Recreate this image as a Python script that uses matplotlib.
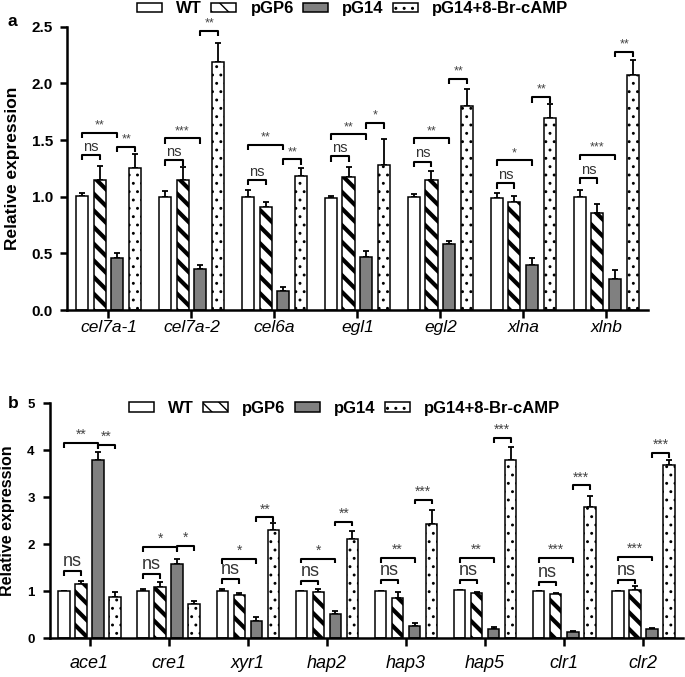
import numpy as np
import matplotlib
matplotlib.use("Agg")
import matplotlib.pyplot as plt

plt.rcParams["font.family"] = ["Liberation Sans", "DejaVu Sans"]
plt.rcParams["hatch.color"] = "black"

SERIES = ["WT", "pGP6", "pG14", "pG14+8-Br-cAMP"]

# panel a: cellulase / xylanase genes
GENES_A = ["cel7a-1", "cel7a-2", "cel6a", "egl1", "egl2", "xlna", "xlnb"]
WT_A = [1.01, 1.00, 1.00, 0.99, 1.00, 0.99, 1.00]
GP6_A = [1.15, 1.15, 0.91, 1.17, 1.15, 0.95, 0.86]
G14_A = [0.46, 0.36, 0.17, 0.47, 0.58, 0.40, 0.27]
CAMP_A = [1.25, 2.19, 1.18, 1.28, 1.80, 1.69, 2.07]
WT_A_ERR = [0.02, 0.05, 0.06, 0.02, 0.02, 0.04, 0.06]
GP6_A_ERR = [0.12, 0.11, 0.04, 0.09, 0.08, 0.06, 0.08]
G14_A_ERR = [0.04, 0.04, 0.03, 0.05, 0.03, 0.06, 0.08]
CAMP_A_ERR = [0.13, 0.17, 0.07, 0.23, 0.15, 0.13, 0.14]
# significance marks: WT vs pGP6, WT vs pG14, pG14 vs pG14+cAMP
NS_Y_A = [1.37, 1.32, 1.15, 1.36, 1.31, 1.12, 1.165]
WT_G14_Y_A = [1.565, 1.515, 1.46, 1.55, 1.515, 1.32, 1.37]
WT_G14_LAB_A = ["**", "***", "**", "**", "**", "*", "***"]
G14_CAMP_Y_A = [1.44, 2.465, 1.33, 1.65, 2.04, 1.88, 2.28]
G14_CAMP_LAB_A = ["**", "**", "**", "*", "**", "**", "**"]

# panel b: regulator genes
GENES_B = ["ace1", "cre1", "xyr1", "hap2", "hap3", "hap5", "clr1", "clr2"]
WT_B = [1.00, 1.00, 1.00, 1.00, 1.00, 1.02, 1.00, 1.00]
GP6_B = [1.15, 1.09, 0.92, 0.99, 0.85, 0.96, 0.93, 1.03]
G14_B = [3.80, 1.58, 0.36, 0.52, 0.25, 0.19, 0.13, 0.19]
CAMP_B = [0.88, 0.73, 2.30, 2.11, 2.43, 3.80, 2.80, 3.69]
WT_B_ERR = [0.01, 0.05, 0.05, 0.01, 0.01, 0.01, 0.01, 0.01]
GP6_B_ERR = [0.07, 0.10, 0.03, 0.06, 0.12, 0.01, 0.03, 0.07]
G14_B_ERR = [0.17, 0.10, 0.08, 0.05, 0.06, 0.04, 0.02, 0.02]
CAMP_B_ERR = [0.10, 0.05, 0.15, 0.16, 0.30, 0.26, 0.22, 0.10]
NS_Y_B = [1.43, 1.36, 1.26, 1.22, 1.24, 1.24, 1.20, 1.24]
WT_G14_Y_B = [4.15, 1.94, 1.68, 1.69, 1.70, 1.70, 1.70, 1.73]
WT_G14_LAB_B = ["**", "*", "*", "*", "**", "**", "***", "***"]
G14_CAMP_Y_B = [4.12, 1.96, 2.57, 2.48, 2.95, 4.26, 3.25, 3.94]
G14_CAMP_LAB_B = ["**", "*", "**", "**", "***", "***", "***", "***"]

FACES = ["white", "white", "#808080", "white"]
HATCHES = [None, "\\\\", None, ".."]
HATCH_LW = [1.0, 3.0, 1.0, 0.9]
STEP = 0.215
WIDTH = 0.145


def draw_panel(ax, genes, means, errs, ns_y, y2, lab2, y3, lab3,
               ymax, ticks, tick_fmt, fs):
    x = np.arange(len(genes))
    bars = []
    for k in range(4):
        pos = x + (k - 1.5) * STEP
        m = np.array(means[k])
        e = np.array(errs[k])
        with plt.rc_context({"hatch.linewidth": HATCH_LW[k]}):
            b = ax.bar(pos, m, WIDTH, color=FACES[k], edgecolor="black",
                       hatch=HATCHES[k], linewidth=1.1, zorder=2)
        for p in b:
            if hasattr(p, "set_hatch_linewidth"):
                p.set_hatch_linewidth(HATCH_LW[k])
        ax.errorbar(pos, m, yerr=[np.zeros_like(e), e], fmt="none",
                    ecolor="black", elinewidth=1.3, capsize=2.5,
                    capthick=1.3, zorder=1)
        bars.append(b)

    h = 0.02 * ymax
    marks = []
    for g in range(len(genes)):
        marks.append((g, 0, 1, ns_y[g], "ns"))
        marks.append((g, 0, 2, y2[g], lab2[g]))
        marks.append((g, 2, 3, y3[g], lab3[g]))
    for g, i, j, y, lab in marks:
        x1 = g + (i - 1.5) * STEP
        x2 = g + (j - 1.5) * STEP
        ax.plot([x1, x1, x2, x2], [y - h, y, y, y - h], color="black",
                lw=1.5, zorder=3, solid_capstyle="butt")
        if lab == "ns":
            ax.text((x1 + x2) / 2, y + 0.004 * ymax, lab, ha="center",
                    va="bottom", fontsize=fs["ns"], color="#333333")
        else:
            ax.text((x1 + x2) / 2, y + 0.004 * ymax, lab, ha="center",
                    va="bottom", fontsize=fs["star"], color="#444444")

    ax.set_xlim(-0.5, len(genes) - 0.5)
    ax.set_ylim(0, ymax)
    ax.set_xticks(x)
    ax.set_xticklabels(genes, fontstyle="italic", fontsize=fs["x"])
    ax.set_yticks(ticks)
    ax.set_yticklabels([tick_fmt.format(t) for t in ticks],
                       fontweight="bold", fontsize=fs["y"])
    for s in ["top", "right"]:
        ax.spines[s].set_visible(False)
    for s in ["left", "bottom"]:
        ax.spines[s].set_linewidth(1.8)
    ax.tick_params(axis="y", length=5, width=1.8, pad=fs["ypad"])
    ax.tick_params(axis="x", length=6, width=1.8, pad=fs["xpad"])
    ax.set_ylabel("Relative expression", fontweight="bold",
                  fontsize=fs["label"])
    return bars


fig = plt.figure(figsize=(6.85, 6.77), dpi=100)

ax_a = fig.add_axes([0.0978, 0.542, 0.848, 0.4186])
bars_a = draw_panel(ax_a, GENES_A,
                    [WT_A, GP6_A, G14_A, CAMP_A],
                    [WT_A_ERR, GP6_A_ERR, G14_A_ERR, CAMP_A_ERR],
                    NS_Y_A, WT_G14_Y_A, WT_G14_LAB_A,
                    G14_CAMP_Y_A, G14_CAMP_LAB_A,
                    2.5, [0, 0.5, 1.0, 1.5, 2.0, 2.5], "{:.1f}",
                    {"ns": 10.5, "star": 9, "x": 12.5, "y": 11,
                     "label": 12.5, "ypad": 5, "xpad": 1.5})
ax_a.yaxis.set_label_coords(-0.081, 0.5)

ax_b = fig.add_axes([0.073, 0.0576, 0.924, 0.3467])
bars_b = draw_panel(ax_b, GENES_B,
                    [WT_B, GP6_B, G14_B, CAMP_B],
                    [WT_B_ERR, GP6_B_ERR, G14_B_ERR, CAMP_B_ERR],
                    NS_Y_B, WT_G14_Y_B, WT_G14_LAB_B,
                    G14_CAMP_Y_B, G14_CAMP_LAB_B,
                    5, [0, 1, 2, 3, 4, 5], "{:.0f}",
                    {"ns": 13, "star": 10, "x": 13, "y": 9.5,
                     "label": 11.5, "ypad": 6, "xpad": 6})
ax_b.yaxis.set_label_coords(-0.055, 0.5)

legend_kw = dict(loc="center", ncol=4, frameon=False,
                 prop={"weight": "bold", "size": 12},
                 handlelength=1.5, handleheight=0.5,
                 handletextpad=0.85, columnspacing=0.55,
                 borderaxespad=0, borderpad=0)
fig.legend(bars_a, SERIES, bbox_to_anchor=(0.515, 0.987), **legend_kw)
fig.legend(bars_b, SERIES, bbox_to_anchor=(0.503, 0.397), **legend_kw)

fig.text(8 / 685, 1 - 21 / 677, "a", fontsize=12.5, fontweight="bold",
         va="center", ha="left")
fig.text(8 / 685, 1 - 404 / 677, "b", fontsize=12.5, fontweight="bold",
         va="center", ha="left")

fig.savefig("out.png", dpi=100)
